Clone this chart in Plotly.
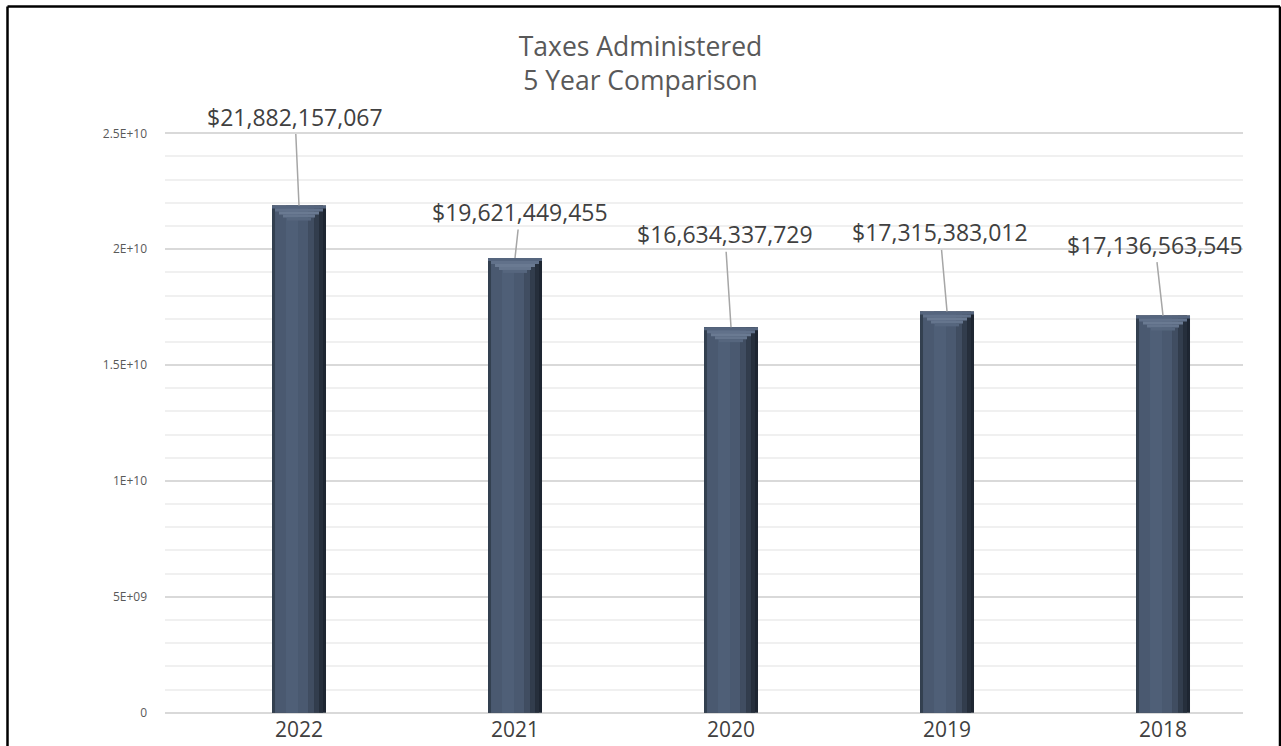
import plotly.graph_objects as go

years = ["2022", "2021", "2020", "2019", "2018"]
taxes = [21882157067, 19621449455, 16634337729, 17315383012, 17136563545]
label_dx = [-4, 5, -6, -7, -8]
label_dy = [-89, -46, -93, -79, -71]
ytick_vals = [0, 5e9, 1e10, 1.5e10, 2e10, 2.5e10]
ytick_text = ["0", "5E+09", "1E+10", "1.5E+10", "2E+10", "2.5E+10"]

W, H = 1281, 746
y_range = [-1e8, 2.51e10]
scale = 580 / 2.5e10                 # px per unit (0 -> 713px, 2.5e10 -> 133px)
top_px = 133 - (y_range[1] - 2.5e10) * scale
bot_px = 713 - y_range[0] * scale
L, R = 165, 38
T, B = top_px, H - bot_px
plot_w = W - L - R
plot_h = bot_px - top_px
x_range = [-0.6204, -0.6204 + plot_w / 216.0]
px_x = (x_range[1] - x_range[0]) / plot_w      # category units per pixel
px_y = 1 / scale                               # value units per pixel
bar_px = 54
bar_w = bar_px * px_x
idx = list(range(len(years)))

fig = go.Figure()

def strip(x0, x1, color, top_cut=0, height=None):
    # vertical strip of each bar, from pixel x0 to x1 within the bar
    if height is None:
        base = None
        yv = [v - top_cut * px_y for v in taxes]
    else:
        base = [v - (top_cut + height) * px_y for v in taxes]
        yv = [height * px_y] * len(taxes)
    fig.add_trace(go.Bar(
        x=idx, y=yv, base=base,
        width=[(x1 - x0) * px_x] * len(years),
        offset=[-bar_w / 2 + x0 * px_x] * len(years),
        marker=dict(color=color, line=dict(width=0)),
        hoverinfo="skip", showlegend=False,
    ))

strip(0, 54, "#1e2632")
strip(0, 3, "#334050")
strip(3, 36, "#4a5970")
strip(14, 26, "#4f5f77")
strip(36, 42, "#404d61")
strip(42, 47, "#323d4d")
strip(47, 51, "#262f3c")
# top bevel bands
strip(0, 54, "#55657e", top_cut=0, height=3)
strip(3, 51, "#61718a", top_cut=3, height=3)
strip(7, 47, "#6a7a92", top_cut=6, height=3)
strip(11, 43, "#65758d", top_cut=9, height=3)
strip(15, 39, "#56667e", top_cut=12, height=3)

annotations = []
for i, v, dx, dy in zip(idx, taxes, label_dx, label_dy):
    annotations.append(dict(
        x=i, y=v, xref="x", yref="y",
        text=f"${v:,}", showarrow=True, arrowhead=0, arrowwidth=1.5,
        arrowcolor="#a6a6a6", ax=dx, ay=dy, standoff=0,
        font=dict(family="Open Sans", size=23, color="#404040"),
    ))

shapes = []
bx0 = (7.5 - L) / plot_w
bx1 = (1280 - L) / plot_w
by0 = (bot_px - 760) / plot_h
by1 = (bot_px - 6) / plot_h
for (xa, ya, xb, yb) in [(bx0, by0, bx0, by1), (bx0, by1, bx1, by1), (bx1, by1, bx1, by0)]:
    shapes.append(dict(type="line", xref="paper", yref="paper", x0=xa, y0=ya,
                       x1=xb, y1=yb, line=dict(color="black", width=2.5)))

fig.update_layout(
    width=W, height=H,
    margin=dict(l=L, r=R, t=T, b=B, autoexpand=False),
    paper_bgcolor="white", plot_bgcolor="white",
    barmode="overlay",
    title=dict(text="Taxes Administered<br>5 Year Comparison",
               x=0.5, xref="container", xanchor="center",
               y=1 - 56 / H, yref="container", yanchor="top",
               font=dict(family="Open Sans", size=26.5, color="#595959")),
    xaxis=dict(range=x_range, tickvals=idx, ticktext=years, automargin=False,
               showgrid=False, zeroline=False, showline=False, ticks="",
               ticklabelstandoff=0,
               tickfont=dict(family="Open Sans", size=21, color="#404040")),
    yaxis=dict(range=y_range, tickvals=ytick_vals, ticktext=ytick_text, automargin=False,
               showgrid=True, gridcolor="#d9d9d9", gridwidth=1.5,
               zeroline=False, showline=False, ticks="",
               ticklabelstandoff=17,
               tickfont=dict(family="Open Sans", size=12, color="#595959"),
               minor=dict(dtick=1e9, showgrid=True, gridcolor="#f0f0f0", gridwidth=1.5)),
    annotations=annotations,
    shapes=shapes,
    font=dict(family="Open Sans"),
)

fig.write_html("out.html", config={"displayModeBar": False},
               post_script="document.body.style.margin='0';document.body.style.overflow='hidden';")
